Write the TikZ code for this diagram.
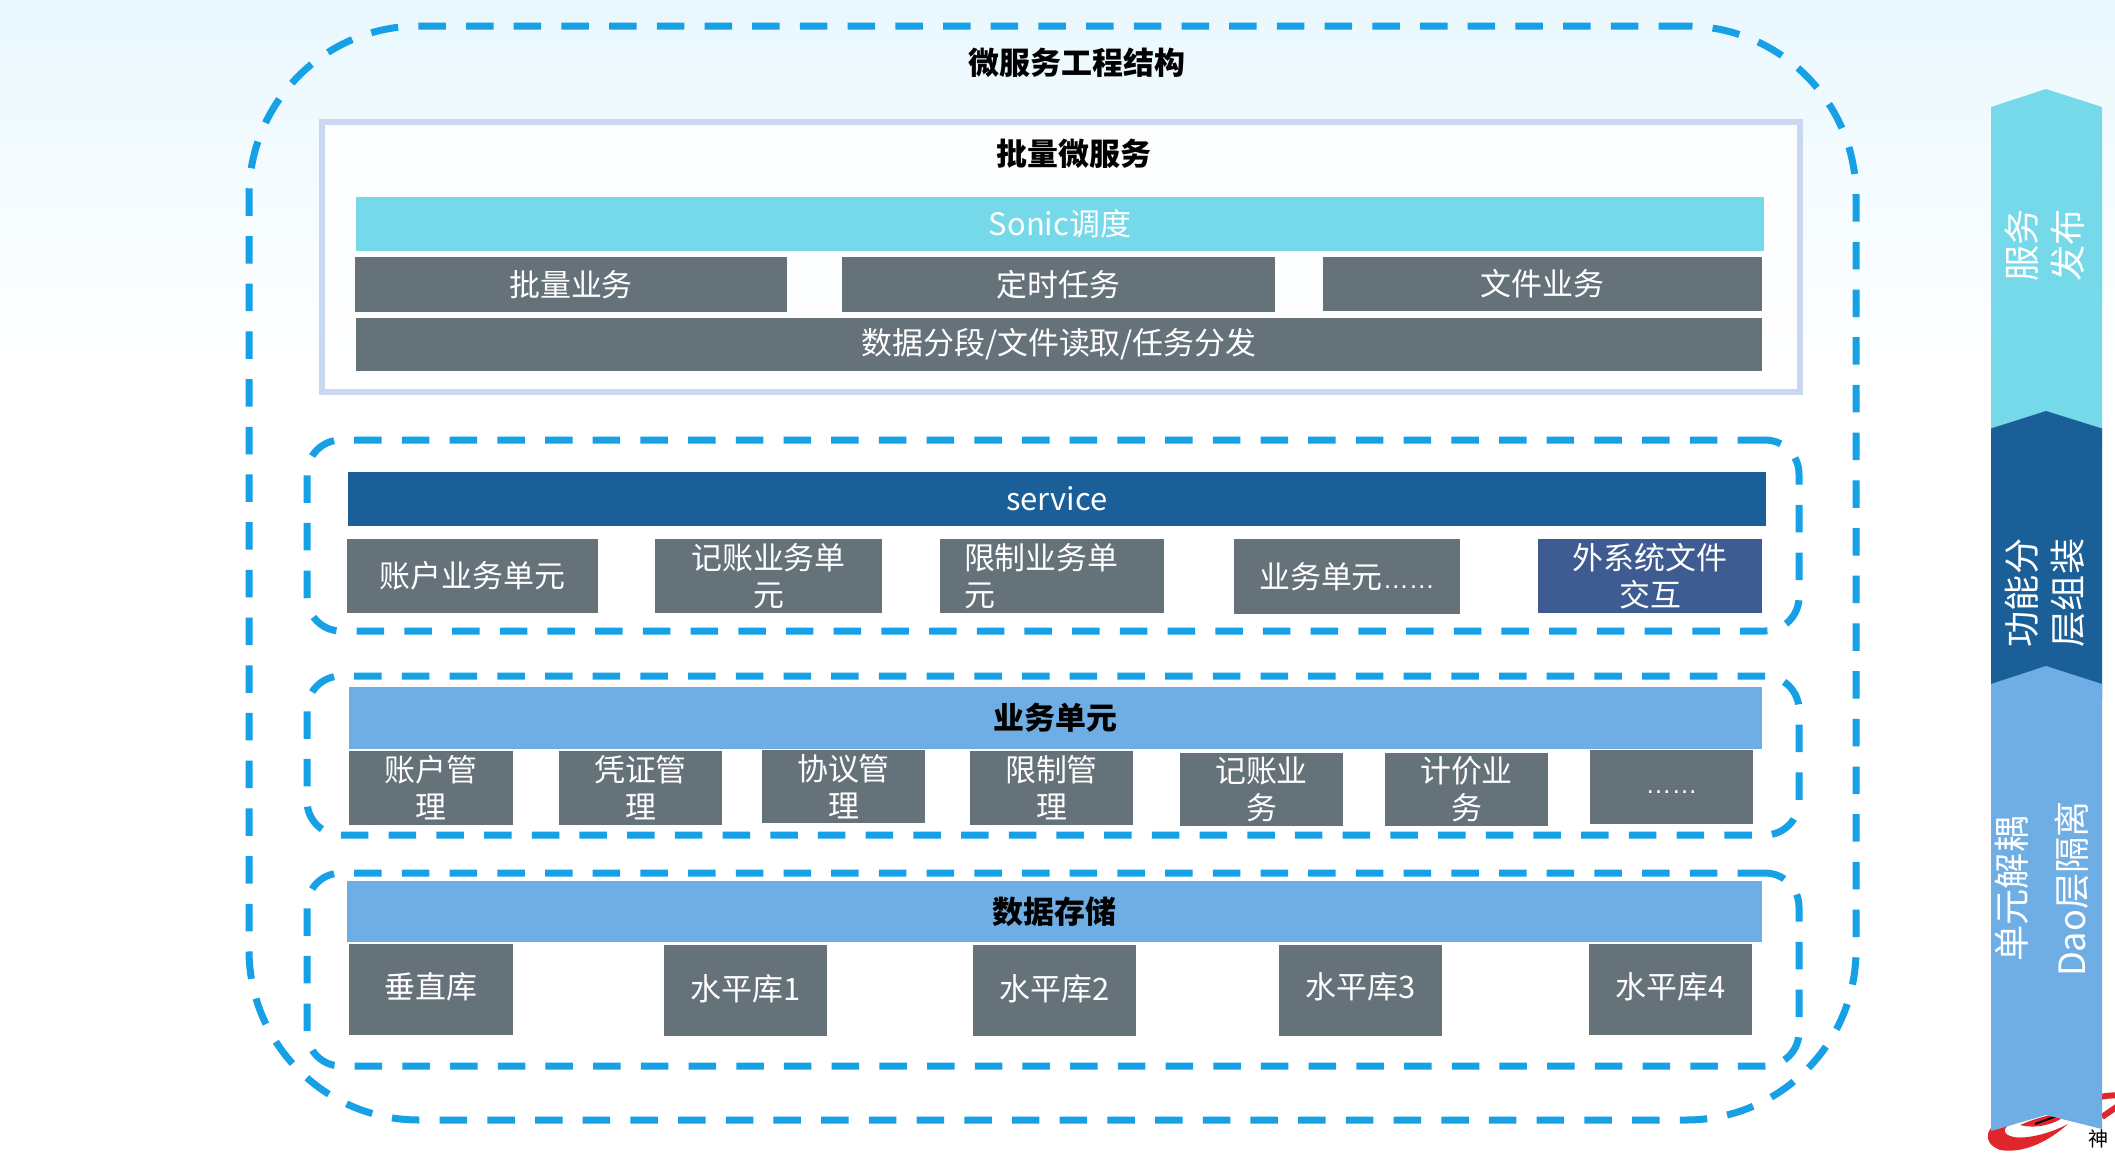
\documentclass[tikz,border=0pt]{standalone}
\usepackage{fontspec}
\setmainfont{Noto Sans CJK SC}
\newfontfamily\dotsfont{Liberation Sans}
\usetikzlibrary{positioning,shadings}

\definecolor{dashblue}{HTML}{16A0E6}
\definecolor{framegrey}{HTML}{C9D8F0}
\definecolor{slategrey}{HTML}{65727A}
\definecolor{sonicblue}{HTML}{76D9E9}
\definecolor{deepblue}{HTML}{1A5F98}
\definecolor{midblue}{HTML}{6FAEE5}
\definecolor{navyblue}{HTML}{3E5C91}
\definecolor{logored}{HTML}{E0262B}
\definecolor{paletint}{HTML}{E9F8FE}

\newcommand{\liftup}[1]{\raisebox{0.03cm}{#1}}

\tikzset{
  dashframe/.style={draw=dashblue, line width=0.07cm, dash pattern=on 0.275cm off 0.202cm, rounded corners=0.34cm, inner sep=0pt},
  block/.style={inner sep=0pt, font=\fontsize{8.8}{10.5}\selectfont, align=center},
  greybox/.style={block, fill=slategrey, text=white},
  barlabel/.style={block, font=\fontsize{8.8}{10.5}\selectfont\bfseries},
  sidelabel/.style={inner sep=0pt, rotate=90, text=white, align=center, font=\fontsize{10.3}{13}\selectfont},
}

\begin{document}
\begin{tikzpicture}[x=1cm, y=-1cm]
    \useasboundingbox (0, 0) rectangle (21.15, 11.54);
    \fill[white] (0, 0) rectangle (21.15, 11.54);
    \shade[top color=paletint, bottom color=white] (0, 0) rectangle (21.15, 3.6);

    % outer frame
    \node[dashframe, rounded corners=1.7cm, minimum width=16.07cm, minimum height=10.94cm] (outerframe) at (10.525, 5.73) {};
    \node[barlabel] (outertitle) at (10.77, 0.63) {微服务工程结构};

    % batch part
    \node[draw=framegrey, line width=0.06cm, fill=white, fill opacity=0.75, inner sep=0pt, minimum width=14.78cm, minimum height=2.70cm] (batchframe) at (10.61, 2.57) {};
    \node[barlabel] (batchtitle) at (10.74, 1.54) {批量微服务};
    \node[block, fill=sonicblue, text=white, minimum width=14.08cm, minimum height=0.54cm] (sonicbar) at (10.60, 2.24) {\liftup{Sonic调度}};
    \node[greybox, minimum width=4.32cm, minimum height=0.55cm] (batchjob) at (5.71, 2.845) {批量业务};
    \node[greybox, minimum width=4.33cm, minimum height=0.55cm] (timerjob) at (10.585, 2.845) {定时任务};
    \node[greybox, minimum width=4.39cm, minimum height=0.54cm] (filejob) at (15.425, 2.84) {文件业务};
    \node[greybox, minimum width=14.06cm, minimum height=0.53cm] (splitbar) at (10.59, 3.445) {数据分段/文件读取/任务分发};

    % service part
    \node[dashframe, minimum width=14.92cm, minimum height=1.91cm] (serviceframe) at (10.53, 5.355) {};
    \node[block, fill=deepblue, text=white, minimum width=14.18cm, minimum height=0.54cm] (servicebar) at (10.57, 4.99) {service};
    \node[greybox, minimum width=2.51cm, minimum height=0.74cm] (accountunit) at (4.725, 5.76) {账户业务单元};
    \node[greybox, minimum width=2.27cm, minimum height=0.74cm] (bookunit) at (7.685, 5.76) {记账业务单\\元};
    \node[greybox, text width=1.76cm, align=left, minimum width=2.24cm, minimum height=0.74cm] (limitunit) at (10.52, 5.76) {限制业务单\\元};
    \node[greybox, minimum width=2.26cm, minimum height=0.75cm] (moreunit) at (13.47, 5.765) {业务单元{\dotsfont\fontsize{7.4}{9}\selectfont ……}};
    \node[block, fill=navyblue, text=white, minimum width=2.24cm, minimum height=0.74cm] (fileunit) at (16.50, 5.76) {外系统文件\\交互};

    % unit part
    \node[dashframe, minimum width=14.92cm, minimum height=1.59cm] (unitframe) at (10.53, 7.555) {};
    \node[barlabel, fill=midblue, minimum width=14.13cm, minimum height=0.62cm] (unitbar) at (10.555, 7.18) {业务单元};
    \node[greybox, minimum width=1.64cm, minimum height=0.74cm] (accountmgr) at (4.31, 7.88) {账户管\\理};
    \node[greybox, minimum width=1.63cm, minimum height=0.74cm] (voucher) at (6.405, 7.88) {凭证管\\理};
    \node[greybox, minimum width=1.63cm, minimum height=0.73cm] (protocol) at (8.435, 7.865) {协议管\\理};
    \node[greybox, minimum width=1.63cm, minimum height=0.74cm] (limitmgr) at (10.515, 7.88) {限制管\\理};
    \node[greybox, minimum width=1.63cm, minimum height=0.73cm] (bookmgr) at (12.615, 7.895) {记账业\\务};
    \node[greybox, minimum width=1.63cm, minimum height=0.73cm] (pricemgr) at (14.665, 7.895) {计价业\\务};
    \node[greybox, minimum width=1.63cm, minimum height=0.74cm] (moremgr) at (16.715, 7.87) {{\dotsfont\fontsize{7.4}{9}\selectfont\raisebox{-0.12cm}{……}}};

    % data part
    \node[dashframe, minimum width=14.92cm, minimum height=1.93cm] (dataframe) at (10.53, 9.695) {};
    \node[barlabel, fill=midblue, minimum width=14.15cm, minimum height=0.61cm] (databar) at (10.545, 9.115) {数据存储};
    \node[greybox, minimum width=1.64cm, minimum height=0.91cm] (verticaldb) at (4.31, 9.895) {\liftup{\liftup{\liftup{垂直库}}}};
    \node[greybox, minimum width=1.63cm, minimum height=0.91cm] (shardone) at (7.455, 9.90) {\liftup{\liftup{水平库1}}};
    \node[greybox, minimum width=1.63cm, minimum height=0.91cm] (shardtwo) at (10.545, 9.90) {\liftup{\liftup{水平库2}}};
    \node[greybox, minimum width=1.63cm, minimum height=0.91cm] (shardthree) at (13.605, 9.90) {\liftup{\liftup{\liftup{水平库3}}}};
    \node[greybox, minimum width=1.63cm, minimum height=0.91cm] (shardfour) at (16.705, 9.895) {\liftup{\liftup{\liftup{水平库4}}}};

    % logo behind the arrow
    \fill[logored] (20.1, 11.16) .. controls (19.85, 11.25) and (19.8, 11.42) .. (20.0, 11.50) .. controls (20.25, 11.54) and (20.5, 11.40) .. (20.68, 11.24) .. controls (20.45, 11.36) and (20.2, 11.40) .. (20.1, 11.36) .. controls (20.0, 11.32) and (20.05, 11.24) .. (20.2, 11.2) -- cycle;
    \fill[logored] (20.2, 11.25) .. controls (20.35, 11.18) and (20.6, 11.12) .. (20.7, 11.12) .. controls (20.6, 11.22) and (20.4, 11.30) .. (20.2, 11.25) -- cycle;
    \draw[black, line width=0.02cm] (20.35, 11.24) -- (20.62, 11.14);
    \draw[logored, line width=0.06cm] (21.0, 10.97) .. controls (21.25, 10.92) and (21.3, 11.0) .. (21.15, 11.08) -- (21.02, 11.17);
    \node[inner sep=0pt, anchor=west, font=\fontsize{5.7}{7}\selectfont] (logotext) at (20.88, 11.39) {神};

    % arrow on the right
    \fill[sonicblue] (19.91, 1.07) -- (20.46, 0.89) -- (21.02, 1.07) -- (21.02, 4.5) -- (19.91, 4.5) -- cycle;
    \fill[deepblue] (19.91, 4.285) -- (20.46, 4.11) -- (21.02, 4.285) -- (21.02, 7.0) -- (19.91, 7.0) -- cycle;
    \fill[midblue] (19.91, 6.84) -- (20.46, 6.66) -- (21.02, 6.84) -- (21.02, 11.29) -- (20.46, 11.15) -- (19.91, 11.31) -- cycle;
    \node[sidelabel] (publishlabel) at (20.45, 2.45) {服务\\发布};
    \node[sidelabel] (layerlabel) at (20.45, 5.93) {功能分\\层组装};
    \node[sidelabel] (decouplelabel) at (20.12, 8.89) {单元解耦};
    \node[sidelabel] (daolabel) at (20.72, 8.89) {Dao层隔离};
\end{tikzpicture}
\end{document}
